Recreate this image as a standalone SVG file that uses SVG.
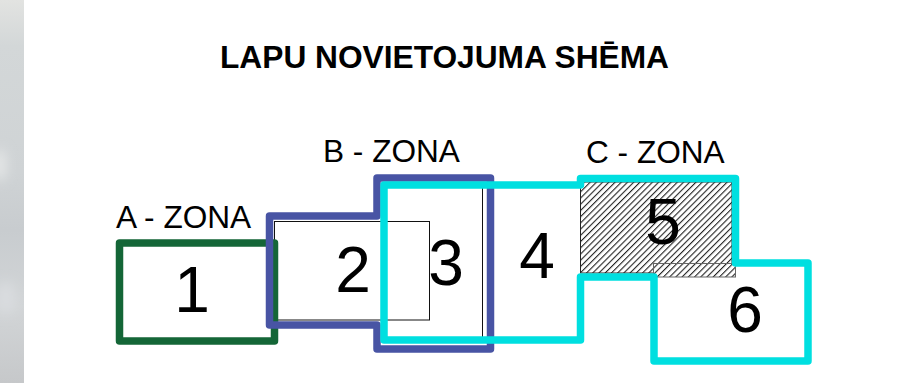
<svg xmlns="http://www.w3.org/2000/svg" width="908" height="383" viewBox="0 0 908 383">
<style>
text{font-family:"Liberation Sans",Arial,sans-serif;fill:#000}
.t{font-size:31.7px;font-weight:bold}
.z{font-size:31.6px}
.n{font-size:64px;text-anchor:middle}
.o{fill:none;stroke-linejoin:round;stroke-width:7.5px}
.h{stroke-width:1px}
</style>
<defs>
<pattern id="hatch" width="4.4" height="4.4" patternUnits="userSpaceOnUse" patternTransform="rotate(45)">
<rect width="4.4" height="4.4" fill="#fff"/>
<rect width="1.1" height="4.4" fill="#222"/>
</pattern>
<linearGradient id="sg" x1="0" y1="0" x2="0" y2="1">
<stop offset="0" stop-color="#e2e3e1"/>
<stop offset=".12" stop-color="#d3d7d8"/>
<stop offset=".45" stop-color="#cfd3d5"/>
<stop offset=".6" stop-color="#c8cccf"/>
<stop offset=".8" stop-color="#d2d5d7"/>
<stop offset="1" stop-color="#c6c8ca"/>
</linearGradient>
<filter id="bl" x="-100%" y="-100%" width="300%" height="300%"><feGaussianBlur stdDeviation="6"/></filter>
<clipPath id="sc"><rect width="24" height="383"/></clipPath>
</defs>
<rect width="908" height="383" fill="#fff"/>
<g id="strip" clip-path="url(#sc)">
<rect width="24" height="383" fill="url(#sg)"/>
<ellipse cx="0" cy="165" rx="6" ry="16" fill="#e6e8e8" filter="url(#bl)"/>
<ellipse cx="6" cy="298" rx="10" ry="16" fill="#d9dcdf" filter="url(#bl)"/>
</g>
<text class="t" x="220" y="68">LAPU NOVIETOJUMA SHĒMA</text>
<g id="labels">
<text class="z" x="116" y="228">A - ZONA</text>
<text class="z" x="323" y="162">B - ZONA</text>
<text class="z" x="586" y="163">C - ZONA</text>
</g>
<g id="hatched">
<rect x="580.5" y="182" width="151.5" height="91" fill="url(#hatch)" stroke="#222" class="h"/>
<rect x="653.5" y="263.5" width="82" height="13.5" fill="url(#hatch)" stroke="#666" class="h"/>
</g>
<g id="sheet-lines" fill="none" stroke="#111" stroke-width="1">
<rect x="274.5" y="221.5" width="155" height="98.5"/>
<path d="M482.5 186V340"/>
</g>
<g id="zones">
<path id="zone-a" class="o" stroke="#146637" d="M119.5 243H274.5V341H119.5Z"/>
<path id="zone-b" class="o" stroke="#4854a4" d="M269.5 216H377V178H490.5V349H377V325H269.5Z"/>
<path id="zone-c" class="o" stroke="#00dfe0" d="M384 185H580.5V178.5H735.5V263H808V361H654V277H580.5V340H384Z"/>
</g>
<g id="numbers">
<text id="n1" class="n" x="192" y="312">1</text>
<text id="n2" class="n" x="353" y="292">2</text>
<text id="n3" class="n" x="446" y="285">3</text>
<text id="n4" class="n" x="537" y="278">4</text>
<text id="n5" class="n" x="663" y="244">5</text>
<text id="n6" class="n" x="745" y="332">6</text>
</g>
</svg>
